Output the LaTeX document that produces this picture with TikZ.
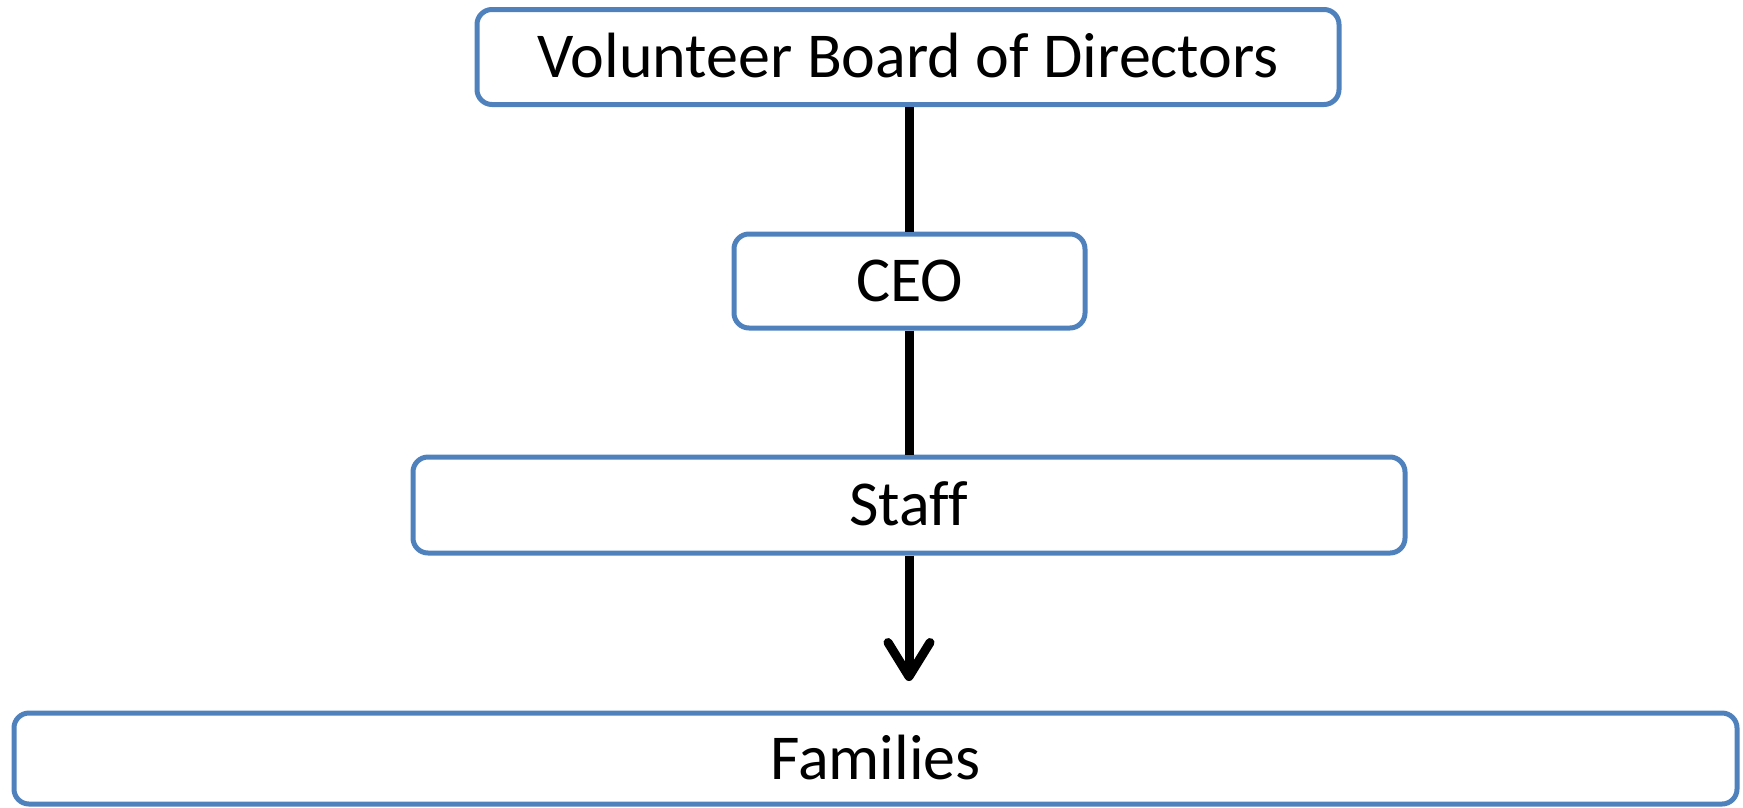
\documentclass[tikz,border=0pt]{standalone}
\usepackage{fontspec}
\setmainfont{Carlito}[Ligatures=CommonOff]
\usetikzlibrary{arrows.meta}
\definecolor{boxblue}{HTML}{4F81BD}
\tikzset{
  orgbox/.style={draw=boxblue, line width=5pt, rounded corners=15pt, inner sep=0pt,
    text height=41pt, text depth=0pt, font=\fontsize{64pt}{72pt}\selectfont},
  link/.style={draw=black, line width=9pt},
}
\begin{document}
\begin{tikzpicture}[x=1pt,y=-1pt]
\useasboundingbox (0,0) rectangle (1743,807);
\node[orgbox, minimum width=862pt, minimum height=95pt] (vol) at (908,57) {Volunteer Board of Directors};
\node[orgbox, minimum width=351pt, minimum height=94pt] (ceo) at (909.5,281) {CEO};
\node[orgbox, minimum width=992pt, minimum height=96pt] (staff) at (909,505) {Staff};
\node[orgbox, minimum width=1723pt, minimum height=91pt] (fam) at (875.5,758.5) {Families};
\coordinate (tip) at (909,681);
\draw[link] (vol.south -| ceo.north) -- (ceo.north);
\draw[link] (ceo.south) -- (ceo.south |- staff.north);
\draw[link, -{Straight Barb[length=34pt, width=42pt, round]}] (staff.south -| tip) -- (tip);
\end{tikzpicture}
\end{document}
